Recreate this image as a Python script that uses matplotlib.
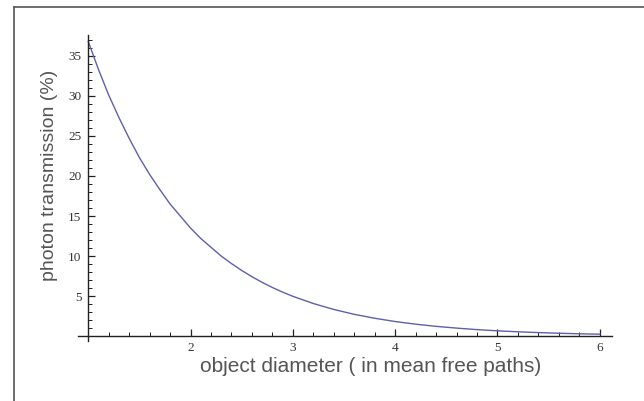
import matplotlib
matplotlib.use("Agg")
import matplotlib.pyplot as plt
from matplotlib.ticker import MultipleLocator
from matplotlib.lines import Line2D

diameter = [1.0, 1.1, 1.2, 1.3, 1.4, 1.5, 1.6, 1.7, 1.8, 1.9, 2.0, 2.1, 2.2,
            2.3, 2.4, 2.5, 2.6, 2.7, 2.8, 2.9, 3.0, 3.2, 3.4, 3.6, 3.8, 4.0,
            4.2, 4.4, 4.6, 4.8, 5.0, 5.2, 5.4, 5.6, 5.8, 6.0]
transmission = [36.8, 33.3, 30.1, 27.3, 24.7, 22.3, 20.2, 18.3, 16.5, 15.0,
                13.5, 12.2, 11.1, 10.0, 9.07, 8.21, 7.43, 6.72, 6.08, 5.50,
                4.98, 4.08, 3.34, 2.73, 2.24, 1.83, 1.50, 1.23, 1.01, 0.82,
                0.67, 0.55, 0.45, 0.37, 0.30, 0.25]
xticks = [2, 3, 4, 5, 6]
yticks = [5, 10, 15, 20, 25, 30, 35]

W, H = 644, 401
fig = plt.figure(figsize=(W / 100, H / 100), dpi=100)
fig.patch.set_facecolor("white")

# outer frame (top and left lines)
fig.add_artist(Line2D([14 / W, 14 / W], [0, 1 - 7 / H], transform=fig.transFigure,
                      color="#555555", lw=1.2))
fig.add_artist(Line2D([14 / W, 1], [1 - 7 / H, 1 - 7 / H], transform=fig.transFigure,
                      color="#555555", lw=1.2))

ax = fig.add_axes([78 / W, (H - 341) / H, (612 - 78) / W, (341 - 35) / H])
ax.plot(diameter, transmission, color="#5f5fab", lw=1.0)
ax.set_xlim(0.9, 6.12)
ax.set_ylim(-0.6, 37.6)

for s in ["top", "right"]:
    ax.spines[s].set_visible(False)
ax.spines["left"].set_position(("data", 1.0))
ax.spines["bottom"].set_position(("data", 0.0))
for s in ["left", "bottom"]:
    ax.spines[s].set_linewidth(1.0)
    ax.spines[s].set_color("#222222")

ax.set_xticks(xticks)
ax.set_yticks(yticks)
ax.xaxis.set_minor_locator(MultipleLocator(0.2))
ax.yaxis.set_minor_locator(MultipleLocator(1))
ax.tick_params(axis="both", which="major", direction="in", length=5, width=0.9,
               colors="#222222", labelcolor="#333333", labelsize=9.5)
ax.tick_params(axis="both", which="minor", direction="in", length=3, width=0.7,
               colors="#222222")
ax.tick_params(axis="y", which="major", pad=5)
ax.tick_params(axis="x", which="major", pad=4)
for lab in ax.get_xticklabels() + ax.get_yticklabels():
    lab.set_family("Liberation Serif")

fig.text(371 / W, 1 - 367 / H, "object diameter ( in mean free paths)",
         ha="center", va="center", fontsize=15, color="#555555",
         family="Liberation Sans")
fig.text(50 / W, 1 - 175 / H, "photon transmission (%)", rotation=90,
         ha="center", va="center", fontsize=14, color="#555555",
         family="Liberation Sans")

fig.savefig("out.png", dpi=100)
